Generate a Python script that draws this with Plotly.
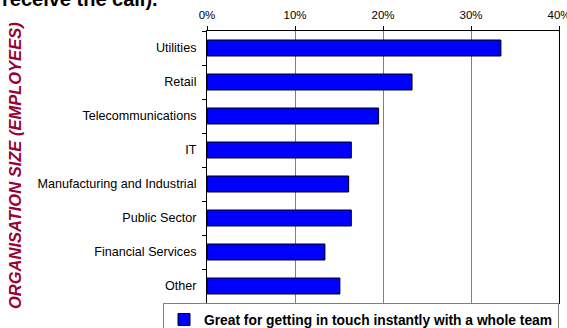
import plotly.graph_objects as go

# Survey share per industry sector
sectors = [
    "Utilities",
    "Retail",
    "Telecommunications",
    "IT",
    "Manufacturing and Industrial",
    "Public Sector",
    "Financial Services",
    "Other",
]
share = [0.334, 0.233, 0.195, 0.164, 0.161, 0.164, 0.134, 0.151]
series_name = "Great for getting in touch instantly with a whole team"
axis_ticks = [0, 0.1, 0.2, 0.3, 0.4]

W, H = 567, 328
M_L, M_R, M_T, M_B = 207, 8, 31, 25
plot_w = W - M_L - M_R
plot_h = H - M_T - M_B

fig = go.Figure(
    go.Bar(
        x=share,
        y=sectors,
        orientation="h",
        name=series_name,
        marker=dict(color="#0000FF", line=dict(color="#000000", width=1)),
    )
)

fig.update_layout(
    width=W,
    height=H,
    margin=dict(l=M_L, r=M_R, t=M_T, b=M_B, pad=0, autoexpand=False),
    paper_bgcolor="white",
    plot_bgcolor="white",
    bargap=0.53,
    font=dict(family="Arial, Liberation Sans, sans-serif", size=12, color="#000000"),
    showlegend=True,
    legend=dict(
        orientation="h",
        x=-44 / plot_w,
        xanchor="left",
        y=0,
        yanchor="top",
        bordercolor="#808080",
        borderwidth=1,
        bgcolor="white",
        font=dict(size=13.8, weight="bold", color="#000000"),
        itemwidth=30,
    ),
)

fig.update_xaxes(
    side="top",
    range=[0, 0.4],
    tickvals=axis_ticks,
    tickformat=".0%",
    ticks="outside",
    ticklen=4,
    tickcolor="#000000",
    showgrid=True,
    gridcolor="#808080",
    gridwidth=1,
    showline=True,
    linecolor="#000000",
    linewidth=1,
    mirror=True,
    zeroline=False,
    tickfont=dict(size=11.5),
    ticklabelstandoff=2,
    ticklabeloverflow="allow",
    fixedrange=True,
)

fig.update_yaxes(
    autorange="reversed",
    ticks="outside",
    tickson="boundaries",
    ticklen=4,
    tickcolor="#000000",
    showline=True,
    linecolor="#000000",
    linewidth=1,
    mirror=True,
    showgrid=False,
    tickfont=dict(size=12.6),
    ticklabelstandoff=7,
    fixedrange=True,
)

# Vertical axis caption
fig.add_annotation(
    text="ORGANISATION SIZE (EMPLOYEES)",
    textangle=-90,
    xref="paper",
    yref="paper",
    x=0,
    xshift=-(M_L - 15),
    xanchor="center",
    y=(H - M_B - 166) / plot_h,
    yanchor="middle",
    showarrow=False,
    font=dict(size=16.5, weight="bold", style="italic", color="#990033"),
)

# Closing line of the chart heading
fig.add_annotation(
    text="receive the call).",
    xref="paper",
    yref="paper",
    x=0,
    xshift=-M_L,
    xanchor="left",
    y=1,
    yshift=M_T - 12,
    yanchor="bottom",
    showarrow=False,
    font=dict(size=20, weight="bold", color="#000000"),
)

fig.write_html("out.html")
